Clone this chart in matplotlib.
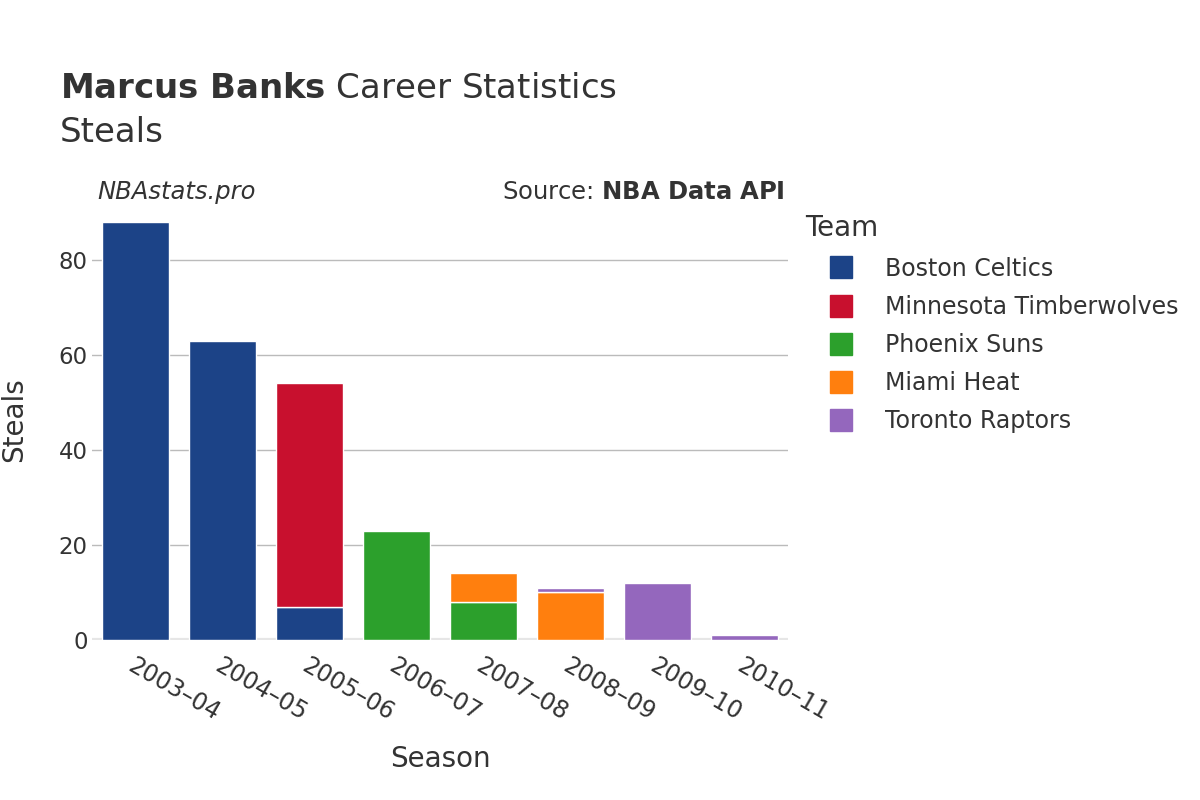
import numpy as np
import matplotlib
matplotlib.use("Agg")
import matplotlib.pyplot as plt
from matplotlib.lines import Line2D

seasons = ["2003–04", "2004–05", "2005–06", "2006–07", "2007–08", "2008–09", "2009–10", "2010–11"]
teams = ["Boston Celtics", "Minnesota Timberwolves", "Phoenix Suns", "Miami Heat", "Toronto Raptors"]
colors = ["#1c4387", "#c8102e", "#2ca02c", "#ff7f0e", "#9467bd"]

boston = [88, 63, 7, 0, 0, 0, 0, 0]
minnesota = [0, 0, 47, 0, 0, 0, 0, 0]
phoenix = [0, 0, 0, 23, 8, 0, 0, 0]
miami = [0, 0, 0, 0, 6, 10, 0, 0]
toronto = [0, 0, 0, 0, 0, 1, 12, 1]
series = [boston, minnesota, phoenix, miami, toronto]

TXT = "#333333"
plt.rcParams["font.family"] = ["DejaVu Sans"]

fig = plt.figure(figsize=(12, 8), dpi=100)
fig.patch.set_facecolor("white")
ax = fig.add_axes([92 / 1200, 160 / 800, 696 / 1200, 440 / 800])

x = np.arange(len(seasons))
bottom = np.zeros(len(seasons))
for vals, c in zip(series, colors):
    v = np.array(vals, dtype=float)
    mask = v > 0
    ax.bar(x[mask], v[mask], width=0.78, bottom=bottom[mask], color=c,
           edgecolor="white", linewidth=1.0, zorder=3)
    bottom += v

ax.set_xlim(-0.5, len(seasons) - 0.5)
ax.set_ylim(0, 92.6)
ax.set_yticks([0, 20, 40, 60, 80])
ax.tick_params(axis="y", length=0, labelsize=16.5, labelcolor=TXT, pad=3)
ax.set_xticks(x)
ax.set_xticklabels(seasons, rotation=-30, ha="left", rotation_mode="anchor",
                   fontsize=17, color=TXT)
ax.tick_params(axis="x", length=0, pad=10)
ax.grid(axis="y", color="#bbbbbb", linewidth=1, zorder=0)
ax.axhline(0, color="#e6e6e6", linewidth=3, zorder=2)
for s in ax.spines.values():
    s.set_visible(False)

ax.set_ylabel("Steals", fontsize=20, color=TXT, labelpad=22)
ax.set_xlabel("Season", fontsize=20, color=TXT, labelpad=14)

fig.text(60 / 1200, 1 - 88 / 800, r"$\bf{Marcus\ Banks}$ Career Statistics",
         fontsize=24.5, color=TXT, va="center")
fig.text(60 / 1200, 1 - 132 / 800, "Steals", fontsize=24.5, color=TXT, va="center")
fig.text(97 / 1200, 1 - 192 / 800, "NBAstats.pro", fontsize=17.5, style="italic",
         color=TXT, va="center")
fig.text(785 / 1200, 1 - 192 / 800, r"Source: $\bf{NBA\ Data\ API}$", fontsize=17.5,
         color=TXT, va="center", ha="right")

handles = [Line2D([0], [0], marker="s", linestyle="none", markersize=16,
                  markerfacecolor=c, markeredgecolor=c, label=t)
           for t, c in zip(teams, colors)]
leg = fig.legend(handles=handles, title="Team", loc="upper left",
                 bbox_to_anchor=(796 / 1200, 1 - 205 / 800), frameon=False,
                 fontsize=17, title_fontsize=20, labelspacing=0.6,
                 handlelength=3.02, handletextpad=0.36, borderaxespad=0)
leg._legend_box.align = "left"
for t in leg.get_texts():
    t.set_color(TXT)
leg.get_title().set_color(TXT)

fig.savefig("out.png", dpi=100, facecolor="white")
